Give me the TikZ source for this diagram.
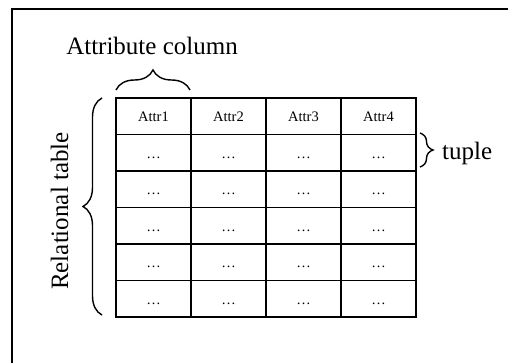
\documentclass[tikz,border=0pt]{standalone}
\usepackage{fontspec}
\setmainfont{Liberation Serif}
\usetikzlibrary{decorations.pathreplacing}
\begin{document}
\begin{tikzpicture}[x=1pt,y=-1pt,
  cell/.style={draw, line width=1.8pt, minimum width=75pt, minimum height=36.5pt,
    inner sep=0pt, outer sep=0pt, text height=11pt, text depth=0pt,
    font=\fontsize{14.5}{16}\selectfont},
  biglabel/.style={font=\fontsize{25}{28}\selectfont, inner sep=0pt},
  curly/.style={decorate, decoration={brace, amplitude=#1}, line width=1.4pt},
]
\useasboundingbox (0,0) rectangle (508,363);

% outer frame
\draw[line width=2pt] (12,363) coordinate (fbl) -- (12,9) coordinate (ftl) -- (508,9) coordinate (ftr);

% header row
\foreach \c in {1,...,4}
  \node[cell] (h\c) at ({116+75*(\c-0.5)},116.25) {Attr\c};

% data rows
\foreach \r in {1,...,5}
  \foreach \c in {1,...,4}
    \node[cell] (c\r-\c) at ({116+75*(\c-0.5)},{98+36.5*(\r+0.5)}) {\ldots};

% braces
\draw[curly=20pt] ([yshift=8pt]h1.north west) -- ([yshift=8pt,xshift=-1pt]h1.north east);
\draw[curly=19pt] ([xshift=-14pt,yshift=2pt]c5-1.south west) -- ([xshift=-14pt]h1.north west);
\draw[curly=13pt] ([xshift=4pt,yshift=1.5pt]c1-4.north east) -- ([xshift=4pt,yshift=4pt]c1-4.south east);

% labels
\node[biglabel, anchor=base] (attrcol) at (152,55) {Attribute column};
\node[biglabel, anchor=base, rotate=90] (reltab) at (68,211) {Relational table};
\node[biglabel, anchor=base west] (tuple) at (442,160) {tuple};
\end{tikzpicture}
\end{document}
